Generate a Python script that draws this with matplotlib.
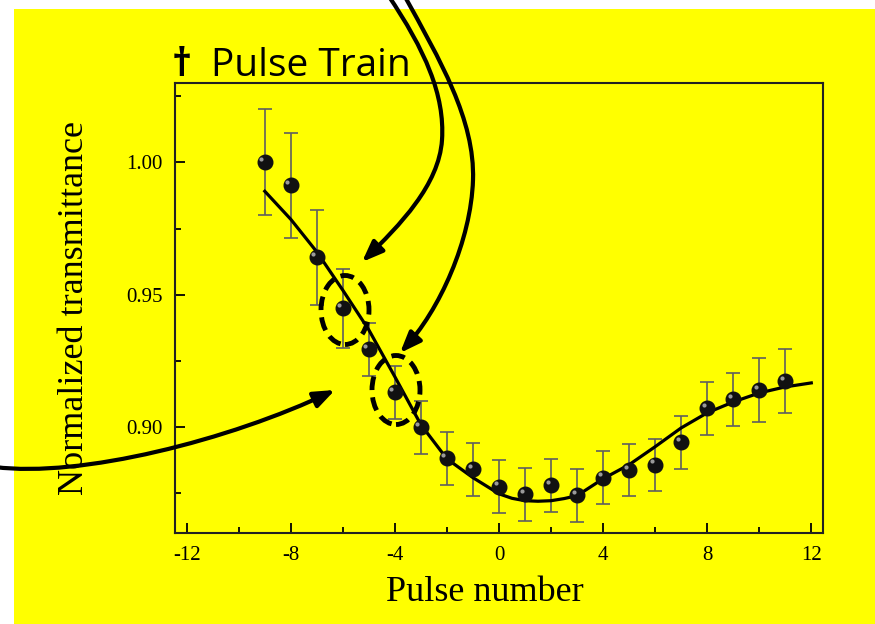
import matplotlib
matplotlib.use("Agg")
import matplotlib.pyplot as plt
import matplotlib.transforms as mtransforms
from matplotlib.patches import Rectangle, Ellipse, FancyArrowPatch
from matplotlib.path import Path
from matplotlib.ticker import MultipleLocator, FormatStrFormatter

plt.rcParams['axes.unicode_minus'] = False

# measured transmittance per pulse
pulse = [-9, -8, -7, -6, -5, -4, -3, -2, -1, 0, 1, 2, 3, 4, 5, 6, 7, 8, 9, 10, 11]
trans = [1.000, 0.9913, 0.9642, 0.9449, 0.9294, 0.9132, 0.9000, 0.8883, 0.8840,
         0.8774, 0.8747, 0.8781, 0.8743, 0.8808, 0.8838, 0.8857, 0.8943, 0.9072,
         0.9106, 0.9140, 0.9174]
err = [0.020, 0.020, 0.018, 0.015, 0.010, 0.010, 0.010, 0.010, 0.010, 0.010, 0.010,
       0.010, 0.010, 0.010, 0.010, 0.010, 0.010, 0.010, 0.010, 0.012, 0.012]

# fitted curve
fit_x = [-9, -8, -7, -6, -5, -4, -3, -2, -1, 0, 0.5, 1, 1.5, 2, 2.5, 3, 4, 5, 6, 7, 8, 9, 10, 11, 12]
fit_y = [0.9891, 0.9785, 0.9662, 0.9517, 0.9367, 0.9190, 0.9009, 0.8880, 0.8809, 0.8748,
         0.8731, 0.8722, 0.8720, 0.8722, 0.8730, 0.8741, 0.8805, 0.8858, 0.8926, 0.8997,
         0.9054, 0.9095, 0.9129, 0.9152, 0.9167]

YELLOW = '#ffff00'
W, H = 875, 624

fig = plt.figure(figsize=(8.75, 6.24), dpi=100)
fig.patch.set_facecolor('white')
fig.patches.append(Rectangle((14 / W, 0), 1, 1 - 9 / H, transform=fig.transFigure,
                             facecolor=YELLOW, edgecolor='none', zorder=-10))

ax = fig.add_axes([175 / W, 1 - 533 / H, (823 - 175) / W, (533 - 83) / H])
ax.set_facecolor(YELLOW)

ax.plot(fit_x, fit_y, color='black', lw=2.3, zorder=3)
ax.errorbar(pulse, trans, yerr=err, fmt='none', ecolor='#5f5f5f', elinewidth=1.2,
            capsize=4.7, capthick=1.2, zorder=2)
ax.plot(pulse, trans, 'o', color='#111111', markersize=10.5, zorder=4)
shine = mtransforms.ScaledTranslation(-2.5 / 72, 2.5 / 72, fig.dpi_scale_trans)
ax.plot(pulse, trans, 'o', color='#9a9a9a', markersize=3, markeredgewidth=0,
        transform=ax.transData + shine, zorder=5)

ax.set_xlim(-12.45, 12.45)
ax.set_ylim(0.86, 1.03)
ax.xaxis.set_major_locator(MultipleLocator(4))
ax.xaxis.set_minor_locator(MultipleLocator(2))
ax.yaxis.set_major_locator(MultipleLocator(0.05))
ax.yaxis.set_minor_locator(MultipleLocator(0.025))
ax.yaxis.set_major_formatter(FormatStrFormatter('%.2f'))
ax.tick_params(which='both', direction='in', top=False, right=False, width=1.3,
               labelsize=15, pad=9)
ax.tick_params(which='major', length=7)
ax.tick_params(which='minor', length=4)
for lab in ax.get_xticklabels() + ax.get_yticklabels():
    lab.set_fontfamily('Liberation Serif')
for s in ax.spines.values():
    s.set_linewidth(1.5)
    s.set_color('#222222')

ax.set_xlabel('Pulse number', fontfamily='Liberation Serif', fontsize=26)
ax.xaxis.set_label_coords(0.478, -0.095)
ax.set_ylabel('Normalized transmittance', fontfamily='Liberation Serif', fontsize=26)
ax.yaxis.set_label_coords(-0.129, 0.5)

fig.text(172 / W, 1 - 76 / H, '\u2020', fontfamily=['Open Sans', 'DejaVu Sans'],
         fontweight='bold', fontsize=28, ha='left', va='baseline')
fig.text(211 / W, 1 - 76 / H, 'Pulse Train', fontfamily=['Open Sans', 'DejaVu Sans'],
         fontsize=28, ha='left', va='baseline')


# annotations drawn in pixel space of the figure
def px(x, y):
    return (x / W, 1 - y / H)


def curve_arrow(segs):
    verts = [px(*segs[0])]
    codes = [Path.MOVETO]
    for seg in segs[1:]:
        verts += [px(*p) for p in seg]
        codes += [Path.CURVE4] * 3
    arr = FancyArrowPatch(path=Path(verts, codes), arrowstyle='-|>,head_length=0.9,head_width=0.35',
                          mutation_scale=14, lw=3, color='black',
                          transform=fig.transFigure, zorder=20)
    fig.patches.append(arr)


curve_arrow([(388, -5), [(425, 50), (445, 95), (442, 140)],
             [(439, 185), (400, 225), (362, 262)]])
curve_arrow([(404, -5), [(440, 60), (475, 120), (473, 180)],
             [(471, 240), (440, 310), (400, 353)]])
curve_arrow([(-5, 467), [(80, 478), (230, 440), (335, 390)]])

for cx, cy in [(345, 310), (396, 390)]:
    e = Ellipse(px(cx, cy), 48 / W, 69 / H, transform=fig.transFigure, fill=False,
                lw=3.5, ls=(0, (2.8, 1.5)), edgecolor='black', zorder=20)
    fig.patches.append(e)

fig.savefig('out.png', dpi=100)
